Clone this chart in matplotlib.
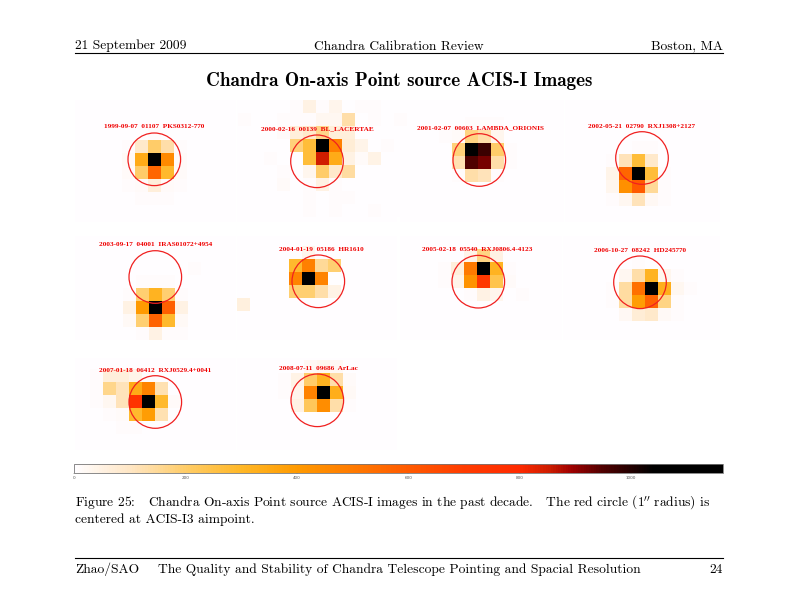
import numpy as np
import matplotlib
matplotlib.use('Agg')
import matplotlib.pyplot as plt
from matplotlib.colors import LinearSegmentedColormap, Normalize
from matplotlib.cm import ScalarMappable
from matplotlib.patches import Circle, Rectangle

# -------------------------------------------------------
# counts per pixel
obs1 = [[0, 0, 5, 0, 0],
        [5, 90, 200, 130, 5],
        [15, 340, 1165, 450, 10],
        [10, 200, 560, 290, 10],
        [8, 12, 60, 10, 5],
        [0, 6, 6, 6, 0]]
obs2 = [[0, 0, 0, 0, 8, 50, 8, 35, 0, 8, 8, 0, 0],
        [8, 0, 0, 6, 6, 6, 25, 25, 130, 0, 5, 0, 5],
        [0, 0, 0, 10, 60, 90, 160, 60, 60, 0, 0, 0, 0],
        [0, 0, 0, 0, 180, 270, 1165, 480, 70, 40, 0, 8, 0],
        [0, 0, 8, 0, 0, 270, 850, 340, 50, 10, 45, 0, 0],
        [0, 0, 0, 5, 0, 30, 200, 90, 140, 0, 0, 0, 0],
        [0, 0, 0, 12, 0, 8, 50, 8, 0, 0, 0, 0, 0],
        [0, 0, 0, 0, 0, 6, 0, 6, 6, 0, 0, 0, 0],
        [0, 0, 0, 0, 0, 6, 0, 6, 0, 0, 8, 0, 0]]
obs3 = [[0, 0, 5, 5, 5, 0],
        [5, 10, 170, 130, 30, 0],
        [0, 180, 1165, 970, 200, 8],
        [0, 120, 950, 920, 130, 8],
        [0, 8, 130, 110, 5, 0]]
obs4 = [[0, 0, 0, 6, 6, 0, 0],
        [0, 6, 110, 270, 90, 0, 0],
        [0, 40, 560, 1165, 270, 5, 0],
        [3, 30, 430, 600, 150, 5, 3],
        [0, 6, 25, 110, 20, 5, 3]]
obs5 = [[0, 0, 0, 0, 0, 0, 5],
        [0, 0, 6, 8, 5, 0, 0],
        [0, 5, 190, 310, 190, 6, 0],
        [0, 50, 400, 1165, 580, 50, 3],
        [3, 15, 190, 570, 290, 15, 0],
        [0, 0, 6, 50, 8, 6, 0]]
obs6 = [[0, 0, 0, 0, 0, 30, 0, 0],
        [0, 0, 0, 0, 290, 480, 150, 190],
        [0, 0, 0, 0, 470, 1165, 470, 0],
        [0, 0, 0, 0, 190, 190, 130, 45],
        [55, 0, 0, 0, 0, 0, 0, 0]]
obs7 = [[0, 3, 3, 3, 3, 0, 0],
        [0, 0, 40, 170, 50, 0, 0],
        [5, 60, 500, 1165, 310, 8, 0],
        [5, 40, 420, 720, 240, 10, 0],
        [0, 0, 8, 50, 30, 3, 5],
        [0, 0, 0, 0, 3, 0, 0]]
obs8 = [[0, 0, 0, 5, 4, 4, 0, 0],
        [0, 0, 25, 130, 310, 30, 6, 0],
        [3, 6, 140, 530, 1165, 330, 25, 5],
        [0, 5, 140, 390, 570, 170, 6, 4],
        [0, 0, 20, 70, 90, 15, 6, 0],
        [0, 0, 0, 3, 3, 3, 0, 0]]
obs9 = [[5, 60, 60, 40, 8, 0, 0],
        [8, 160, 110, 340, 470, 120, 0],
        [5, 25, 110, 740, 1165, 290, 12],
        [0, 6, 10, 290, 390, 120, 0],
        [0, 0, 5, 5, 0, 0, 0]]
obs10 = [[0, 0, 20, 30, 20, 0],
         [5, 45, 200, 310, 130, 10],
         [5, 35, 470, 1165, 330, 15],
         [0, 50, 220, 440, 130, 5],
         [0, 3, 3, 3, 3, 3]]
images = [obs1, obs2, obs3, obs4, obs5, obs6, obs7, obs8, obs9, obs10]

labels = ['1999-09-07  01107  PKS0312-770', '2000-02-16  00139  BL_LACERTAE',
          '2001-02-07  00603  LAMBDA_ORIONIS', '2002-05-21  02790  RXJ1308+2127',
          '2003-09-17  04001  IRAS01072+4954', '2004-01-19  05186  HR1610',
          '2005-02-18  05540  RXJ0806.4-4123', '2006-10-27  08242  HD245770',
          '2007-01-18  06412  RXJ0529.4+0041', '2008-07-11  09686  ArLac']
bar_ticks = [0, 200, 400, 600, 800, 1000]
bar_max = 1165

# layout, in pixels of the page
origins = [(122, 127), (238.3, 100), (439.3, 116.7), (593.3, 141.3), (110, 262),
           (237, 246), (438, 236), (592.7, 256), (90, 368.7), (278, 360)]
centers = [(154.3, 159.3), (317, 161.3), (479.3, 160), (642, 158), (155.3, 277),
           (318.3, 281.3), (478.3, 281.7), (640, 282.3), (155.3, 402), (317.3, 400.3)]
label_pos = [(154, 126.5), (317, 129), (480, 127.5), (642, 126), (155.5, 245),
             (321, 249.5), (477.5, 249.5), (640.5, 250.5), (155, 370), (318, 368)]
tiles = [(75, 100, 161, 122), (237, 100, 160, 122), (400, 100, 164, 122), (565, 100, 155, 122),
         (75, 236, 161, 104), (237, 236, 160, 104), (400, 236, 162, 104), (563, 236, 157, 104),
         (75, 358, 161, 92), (237, 358, 160, 92)]
cell = 13

heat = LinearSegmentedColormap.from_list('heat', [
    (0 / bar_max, '#fffdff'), (100 / bar_max, '#ffe6c4'), (200 / bar_max, '#ffcc66'),
    (300 / bar_max, '#ffb726'), (400 / bar_max, '#ff9a00'), (500 / bar_max, '#ff7a00'),
    (600 / bar_max, '#ff5a00'), (700 / bar_max, '#ff3c00'), (800 / bar_max, '#ff2a00'),
    (855 / bar_max, '#cc1c00'), (893 / bar_max, '#a00000'), (950 / bar_max, '#500000'),
    (1040 / bar_max, '#000000'), (1, '#000000')])
norm = Normalize(0, bar_max)

fig = plt.figure(figsize=(7.92, 6.12), dpi=100)
ax = fig.add_axes([0, 0, 1, 1])
ax.set_xlim(0, 792)
ax.set_ylim(612, 0)
ax.axis('off')

# -------------------------------------------------------
for x, y, w, h in tiles:
    ax.add_patch(Rectangle((x, y), w, h, facecolor=heat(0.0), edgecolor='none', zorder=1))

for img, (x0, y0), c, lab, lp in zip(images, origins, centers, labels, label_pos):
    img = np.array(img)
    ax.imshow(img, cmap=heat, norm=norm, interpolation='nearest', zorder=2, aspect='auto',
              extent=(x0, x0 + img.shape[1] * cell, y0 + img.shape[0] * cell, y0))
    ax.add_patch(Circle(c, 26.3, fill=False, edgecolor='#f02020', linewidth=0.9, zorder=3))
    ax.text(lp[0], lp[1], lab, color='#f00000', fontsize=5.25, family='Liberation Serif',
            weight='bold', ha='center', va='center', zorder=4)

ax.set_xlim(0, 792)
ax.set_ylim(612, 0)

# page furniture
head = dict(family='cmr10', fontsize=9.7, va='baseline')
ax.text(75, 49.5, '21 September 2009', ha='left', **head)
ax.text(399, 49.5, 'Chandra Calibration Review', ha='center', **head)
ax.text(723, 49.5, 'Boston, MA', ha='right', **head)
ax.plot([75, 723], [53, 53], color='black', lw=0.8)
ax.text(399.5, 86, 'Chandra On-axis Point source ACIS-I Images', family='cmb10', fontsize=13.8,
        ha='center', va='baseline')
ax.text(75, 506, 'Figure 25:   Chandra On-axis Point source ACIS-I images in the past decade.   The red circle (1$^{\\prime\\prime}$ radius) is',
        ha='left', **head)
ax.text(75, 523, 'centered at ACIS-I3 aimpoint.', ha='left', **head)
ax.plot([75, 723], [558, 558], color='black', lw=0.8)
ax.text(75, 573, 'Zhao/SAO', ha='left', **head)
ax.text(399.5, 573, 'The Quality and Stability of Chandra Telescope Pointing and Spacial Resolution',
        ha='center', **head)
ax.text(723, 573, '24', ha='right', **head)

# colour bar
cax = fig.add_axes([74 / 792, 1 - 473 / 612, 649 / 792, 9 / 612])
cb = fig.colorbar(ScalarMappable(norm=norm, cmap=heat), cax=cax, orientation='horizontal',
                  ticks=bar_ticks)
cb.outline.set_edgecolor('#777777')
cb.outline.set_linewidth(0.6)
cax.tick_params(length=1, width=0.3, labelsize=3, pad=1, colors='#555555')

fig.savefig('out.png', dpi=100)
